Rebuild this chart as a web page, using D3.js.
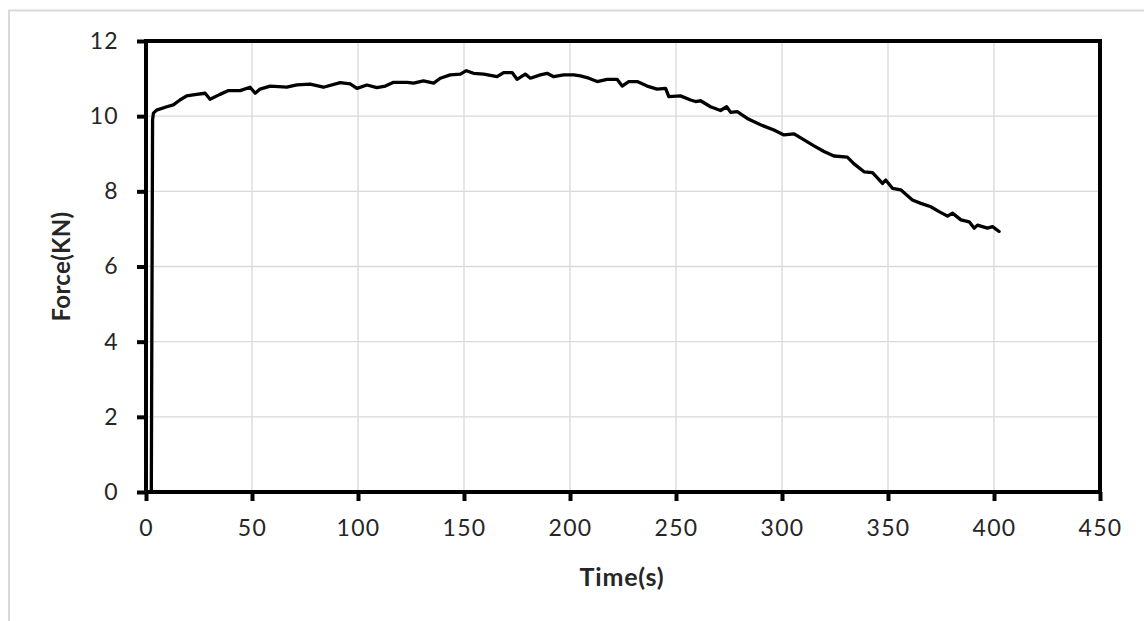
<!DOCTYPE html>
<html>
<head>
<meta charset="utf-8">
<script src="https://cdn.jsdelivr.net/npm/d3@7"></script>
<style>
  html, body { margin: 0; padding: 0; background: #fff; }
  svg { display: block; }
  text { font-family: Lato, "Liberation Sans", sans-serif; fill: #262626; }
</style>
</head>
<body>
<script>
// ---- data ----
const xTicks = [0, 50, 100, 150, 200, 250, 300, 350, 400, 450];
const yTicks = [0, 2, 4, 6, 8, 10, 12];
const xTitle = "Time(s)";
const yTitle = "Force(KN)";

const time = [0, 2.5, 3.1, 3.5, 5, 9.8, 12.9, 16, 19.2, 23.9, 27.9, 30.2, 34.9, 38.9, 44.4, 49.1, 51.5, 53.8, 58.6, 66.4, 71.2, 77.4, 83.7, 91.6, 96.3, 99.5, 104.2, 108.9, 112.9, 116.8, 123.1, 126.2, 130.9, 135.7, 138.8, 143.5, 148.3, 151.1, 154.5, 159.3, 165.6, 168.7, 172.7, 175.0, 178.9, 181.3, 186.0, 189.2, 192.3, 197.0, 201.8, 204.9, 208.9, 212.8, 217.5, 222.2, 224.6, 227.7, 231.7, 236.4, 241.1, 245.1, 246.6, 252.1, 256.9, 259.2, 261.6, 266.3, 271.0, 273.9, 275.8, 278.9, 283.6, 289.9, 296.2, 300.9, 305.7, 310.4, 315.1, 319.8, 324.5, 330.8, 334.0, 338.7, 342.7, 347.4, 348.9, 352.1, 356.0, 361.5, 365.5, 370.2, 374.1, 378.1, 380.4, 384.4, 388.3, 390.7, 392.2, 396.9, 399.3, 402.4];
const force = [0, 0, 9.9, 10.08, 10.16, 10.25, 10.30, 10.43, 10.54, 10.58, 10.61, 10.45, 10.58, 10.68, 10.68, 10.77, 10.61, 10.72, 10.80, 10.77, 10.83, 10.85, 10.77, 10.89, 10.86, 10.74, 10.83, 10.76, 10.80, 10.90, 10.90, 10.88, 10.94, 10.88, 11.01, 11.10, 11.12, 11.21, 11.14, 11.12, 11.05, 11.16, 11.16, 10.98, 11.12, 11.01, 11.10, 11.14, 11.05, 11.10, 11.10, 11.07, 11.01, 10.92, 10.98, 10.98, 10.80, 10.92, 10.92, 10.80, 10.72, 10.74, 10.52, 10.54, 10.43, 10.39, 10.41, 10.25, 10.15, 10.25, 10.10, 10.12, 9.94, 9.77, 9.63, 9.50, 9.53, 9.37, 9.21, 9.06, 8.94, 8.91, 8.73, 8.52, 8.50, 8.21, 8.30, 8.08, 8.04, 7.77, 7.68, 7.59, 7.46, 7.34, 7.42, 7.24, 7.19, 7.02, 7.10, 7.02, 7.06, 6.93];

// ---- layout ----
const W = 1144, H = 621;
const plot = { left: 146, right: 1100, top: 41, bottom: 492 };

const svg = d3.select("body").append("svg").attr("width", W).attr("height", H);

// outer border
svg.append("rect")
  .attr("x", 9).attr("y", 10.5).attr("width", W + 10).attr("height", H + 10)
  .attr("fill", "none").attr("stroke", "#d9d9d9").attr("stroke-width", 2);

const x = d3.scaleLinear().domain([0, 450]).range([plot.left, plot.right]);
const y = d3.scaleLinear().domain([0, 12]).range([plot.bottom, plot.top]);

// gridlines
svg.append("g").selectAll("line").data(xTicks.slice(1, -1)).join("line")
  .attr("x1", d => x(d)).attr("x2", d => x(d))
  .attr("y1", plot.top).attr("y2", plot.bottom)
  .attr("stroke", "#d9d9d9").attr("stroke-width", 1.3);
svg.append("g").selectAll("line").data(yTicks.slice(1, -1)).join("line")
  .attr("x1", plot.left).attr("x2", plot.right)
  .attr("y1", d => y(d)).attr("y2", d => y(d))
  .attr("stroke", "#d9d9d9").attr("stroke-width", 1.3);

// frame (top, right)
svg.append("path")
  .attr("d", `M${plot.left},${plot.top}H${plot.right}V${plot.bottom}`)
  .attr("fill", "none").attr("stroke", "#000").attr("stroke-width", 4)
  .attr("stroke-linecap", "square");

// axes
const xAxis = d3.axisBottom(x).tickValues(xTicks).tickSize(9).tickPadding(19).tickFormat(d3.format("d"));
const yAxis = d3.axisLeft(y).tickValues(yTicks).tickSize(9).tickPadding(18).tickFormat(d3.format("d"));

const gx = svg.append("g").attr("transform", `translate(0,${plot.bottom})`).call(xAxis);
const gy = svg.append("g").attr("transform", `translate(${plot.left},0)`).call(yAxis);

[gx, gy].forEach(g => {
  g.select(".domain").attr("stroke", "#000").attr("stroke-width", 4);
  g.selectAll(".tick line").attr("stroke", "#000").attr("stroke-width", 4);
  g.selectAll(".tick text").attr("font-family", "Lato, sans-serif")
    .attr("font-size", 23).attr("fill", "#262626").style("letter-spacing", "1.3px");
});
gx.select(".domain").attr("d", `M${plot.left},0H${plot.right}`);
gy.select(".domain").attr("d", `M0,${plot.top}V${plot.bottom}`);

// data line
const pts = time.map((t, i) => [t, force[i]]);
svg.append("path")
  .datum(pts)
  .attr("fill", "none").attr("stroke", "#000").attr("stroke-width", 3.3)
  .attr("stroke-linejoin", "round").attr("stroke-linecap", "round")
  .attr("d", d3.line().x(d => x(d[0])).y(d => y(d[1])));

// titles
svg.append("text")
  .attr("x", 622).attr("y", 586)
  .attr("text-anchor", "middle").attr("font-size", 25).attr("font-weight", "bold")
  .style("letter-spacing", "0.8px")
  .text(xTitle);
svg.append("text")
  .attr("transform", `translate(70,${(plot.top + plot.bottom) / 2}) rotate(-90)`)
  .attr("text-anchor", "middle").attr("font-size", 24).attr("font-weight", "bold")
  .style("letter-spacing", "0.3px")
  .text(yTitle);
</script>
</body>
</html>
